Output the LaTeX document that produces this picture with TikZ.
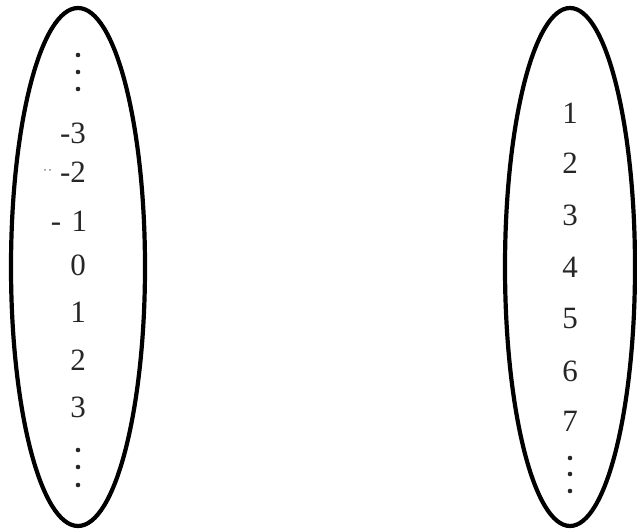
\documentclass[tikz,border=0pt]{standalone}
\usepackage{fontspec}
\setmainfont{Liberation Serif}
\begin{document}
\begin{tikzpicture}[x=1pt,y=-1pt,
  num/.style={font=\fontsize{31}{31}\selectfont, inner sep=0pt, text=black!85},
  setring/.style={line width=4.2pt, draw=black},
  dot/.style={fill=black!85, draw=none}]
\useasboundingbox (0,0) rectangle (637,529);
% ellipses
\draw[setring] (78,267) ellipse (67 and 259);
\draw[setring] (570,267) ellipse (65 and 259);
% left set
\foreach \y in {55,72,89} \fill[dot] (78,\y) circle (2.3);
\node[num] (lm3) at (73,133) {-3};
\node[num] (lm2) at (73,172) {-2};
\fill[black!50] (45,170) circle (1) (50,170) circle (1);
\node[num] (lm1) at (69,221) {-\,\,1};
\node[num] (l0) at (78,265) {0};
\node[num] (l1) at (78,312) {1};
\node[num] (l2) at (78,360) {2};
\node[num] (l3) at (78,407) {3};
\foreach \y in {450,467,485} \fill[dot] (78,\y) circle (2.3);
% right set
\node[num] (r1) at (570,113) {1};
\node[num] (r2) at (570,163) {2};
\node[num] (r3) at (570,215) {3};
\node[num] (r4) at (570,267) {4};
\node[num] (r5) at (570,319) {5};
\node[num] (r6) at (570,371) {6};
\node[num] (r7) at (570,421) {7};
\foreach \y in {458,474,491} \fill[dot] (570,\y) circle (2.3);
\end{tikzpicture}
\end{document}
